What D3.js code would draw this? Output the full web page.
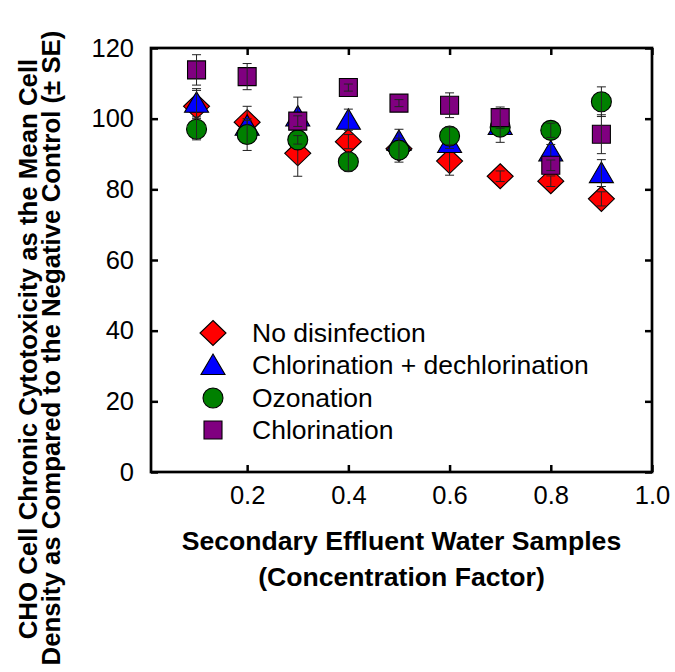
<!DOCTYPE html>
<html>
<head>
<meta charset="utf-8">
<script src="https://cdn.jsdelivr.net/npm/d3@7"></script>
<style>
  html, body { margin: 0; padding: 0; background: #fff; }
  svg { display: block; }
  text { font-family: "Liberation Sans", Arial, Helvetica, sans-serif; fill: #000; }
</style>
</head>
<body>
<svg id="chart" width="675" height="672"></svg>
<script>
// ---- data ----
const xValues = [0.1, 0.2, 0.3, 0.4, 0.5, 0.6, 0.7, 0.8, 0.9];
const seriesNames = ["No disinfection", "Chlorination + dechlorination", "Ozonation", "Chlorination"];
const noDisinfection    = [103.5, 99.0, 90.2, 93.5, 91.5, 88.0, 83.7, 82.3, 77.3];
const noDisinfectionSE  = [4.5, 4.5, 6.5, 2.0, 1.5, 4.0, 1.5, 1.5, 2.0];
const chlorDechlor      = [104.5, 98.0, 100.6, 99.7, 93.7, 93.1, 98.2, 90.7, 84.6];
const chlorDechlorSE    = [4.0, 1.5, 5.5, 3.0, 3.3, 1.5, 1.5, 2.0, 3.8];
const ozonation         = [97.0, 95.5, 94.0, 87.8, 91.1, 95.1, 97.6, 96.7, 104.8];
const ozonationSE       = [3.0, 4.5, 1.2, 2.6, 3.4, 2.5, 4.3, 2.0, 4.2];
const chlorination      = [113.8, 111.9, 99.3, 108.8, 104.4, 103.8, 100.3, 86.8, 95.6];
const chlorinationSE    = [4.3, 3.7, 1.5, 1.0, 1.0, 3.5, 3.0, 1.5, 5.5];
const xTicks = [0.2, 0.4, 0.6, 0.8, 1.0];
const yTicks = [0, 20, 40, 60, 80, 100, 120];
const xTitle = ["Secondary Effluent Water Samples", "(Concentration Factor)"];
const yTitle = ["CHO Cell Chronic Cytotoxicity as the Mean Cell", "Density as Compared to the Negative Control (\u00B1 SE)"];

// ---- styling ----
const colors = ["#ff0000", "#0000ff", "#008000", "#800080"];
const shapes = ["diamond", "triangle", "circle", "square"];
const seriesVals = [noDisinfection, chlorDechlor, ozonation, chlorination];
const seriesSE = [noDisinfectionSE, chlorDechlorSE, ozonationSE, chlorinationSE];

const svg = d3.select("#chart");
const pLeft = 151, pRight = 652, pTop = 48, pBottom = 472;
const x = d3.scaleLinear().domain([0.01, 1.0]).range([pLeft, pRight]);
const y = d3.scaleLinear().domain([0, 120]).range([pBottom, pTop]);

// custom symbol shapes
const symbolTypes = {
  diamond: { draw(ctx) { ctx.moveTo(0, -12.5); ctx.lineTo(13, 0); ctx.lineTo(0, 12.5); ctx.lineTo(-13, 0); ctx.closePath(); } },
  triangle: { draw(ctx) { ctx.moveTo(0, -11); ctx.lineTo(12, 9.5); ctx.lineTo(-12, 9.5); ctx.closePath(); } },
  circle: { draw(ctx) { ctx.moveTo(10, 0); ctx.arc(0, 0, 10, 0, 2 * Math.PI); ctx.closePath(); } },
  square: { draw(ctx) { ctx.rect(-9, -9, 18, 18); } }
};
const symbolPath = s => d3.symbol().type(symbolTypes[s])();

// ---- data marks ----
const plot = svg.append("g");
seriesVals.forEach((vals, si) => {
  const g = plot.append("g");
  const pts = xValues.map((xv, i) => ({ x: xv, y: vals[i], se: seriesSE[si][i] }));
  g.selectAll("path.m").data(pts).join("path")
    .attr("class", "m")
    .attr("d", symbolPath(shapes[si]))
    .attr("transform", d => `translate(${x(d.x)},${y(d.y)})`)
    .attr("fill", colors[si]).attr("stroke", "#000").attr("stroke-width", 1.1);
  const eb = g.selectAll("g.eb").data(pts).join("g").attr("class", "eb")
    .attr("stroke", "#222").attr("stroke-width", 1);
  eb.append("line").attr("x1", d => x(d.x)).attr("x2", d => x(d.x))
    .attr("y1", d => y(d.y + d.se)).attr("y2", d => y(d.y - d.se));
  eb.append("line").attr("x1", d => x(d.x) - 4.5).attr("x2", d => x(d.x) + 4.5)
    .attr("y1", d => y(d.y + d.se)).attr("y2", d => y(d.y + d.se));
  eb.append("line").attr("x1", d => x(d.x) - 4.5).attr("x2", d => x(d.x) + 4.5)
    .attr("y1", d => y(d.y - d.se)).attr("y2", d => y(d.y - d.se));
});

// ---- axes (ticks inside, mirrored) ----
const tickLen = 7;
const axStyle = g => { g.select(".domain").remove(); g.selectAll(".tick line").attr("stroke", "#000").attr("stroke-width", 2.5); };
svg.append("g").attr("transform", `translate(0,${pBottom})`)
  .call(d3.axisBottom(x).tickValues(xTicks).tickSize(-tickLen).tickFormat(d3.format(".1f")).tickPadding(14))
  .call(axStyle)
  .call(g => g.selectAll("text").attr("font-size", 25.5).attr("font-family", "Liberation Sans, Arial, sans-serif"));
svg.append("g").attr("transform", `translate(0,${pTop})`)
  .call(d3.axisTop(x).tickValues(xTicks).tickSize(-tickLen).tickFormat(""))
  .call(axStyle);
svg.append("g").attr("transform", `translate(${pLeft},0)`)
  .call(d3.axisLeft(y).tickValues(yTicks).tickSize(-tickLen).tickPadding(17))
  .call(axStyle)
  .call(g => g.selectAll("text").attr("font-size", 25.5).attr("font-family", "Liberation Sans, Arial, sans-serif"));
svg.append("g").attr("transform", `translate(${pRight},0)`)
  .call(d3.axisRight(y).tickValues(yTicks).tickSize(-tickLen).tickFormat(""))
  .call(axStyle);
svg.append("rect").attr("x", pLeft).attr("y", pTop).attr("width", pRight - pLeft).attr("height", pBottom - pTop)
  .attr("fill", "none").attr("stroke", "#000").attr("stroke-width", 2.7);

// ---- legend ----
const legendRows = [333, 365, 398, 430];
const leg = svg.append("g");
seriesNames.forEach((name, i) => {
  leg.append("path").attr("d", symbolPath(shapes[i]))
    .attr("transform", `translate(213,${legendRows[i]})`)
    .attr("fill", colors[i]).attr("stroke", "#000").attr("stroke-width", 1.1);
  leg.append("text").attr("x", 252).attr("y", legendRows[i] + 9).attr("font-size", 26.5).text(name);
});

// ---- axis titles ----
svg.append("text").attr("x", (pLeft + pRight) / 2).attr("y", 550).attr("text-anchor", "middle")
  .attr("font-size", 26.6).attr("font-weight", "bold").text(xTitle[0]);
svg.append("text").attr("x", (pLeft + pRight) / 2).attr("y", 586).attr("text-anchor", "middle")
  .attr("font-size", 26.6).attr("font-weight", "bold").text(xTitle[1]);
svg.append("text").attr("transform", "translate(37,349) rotate(-90)").attr("text-anchor", "middle")
  .attr("font-size", 25.8).attr("font-weight", "bold").text(yTitle[0]);
svg.append("text").attr("transform", "translate(60,348) rotate(-90)").attr("text-anchor", "middle")
  .attr("font-size", 25.8).attr("font-weight", "bold").text(yTitle[1]);
</script>
</body>
</html>
